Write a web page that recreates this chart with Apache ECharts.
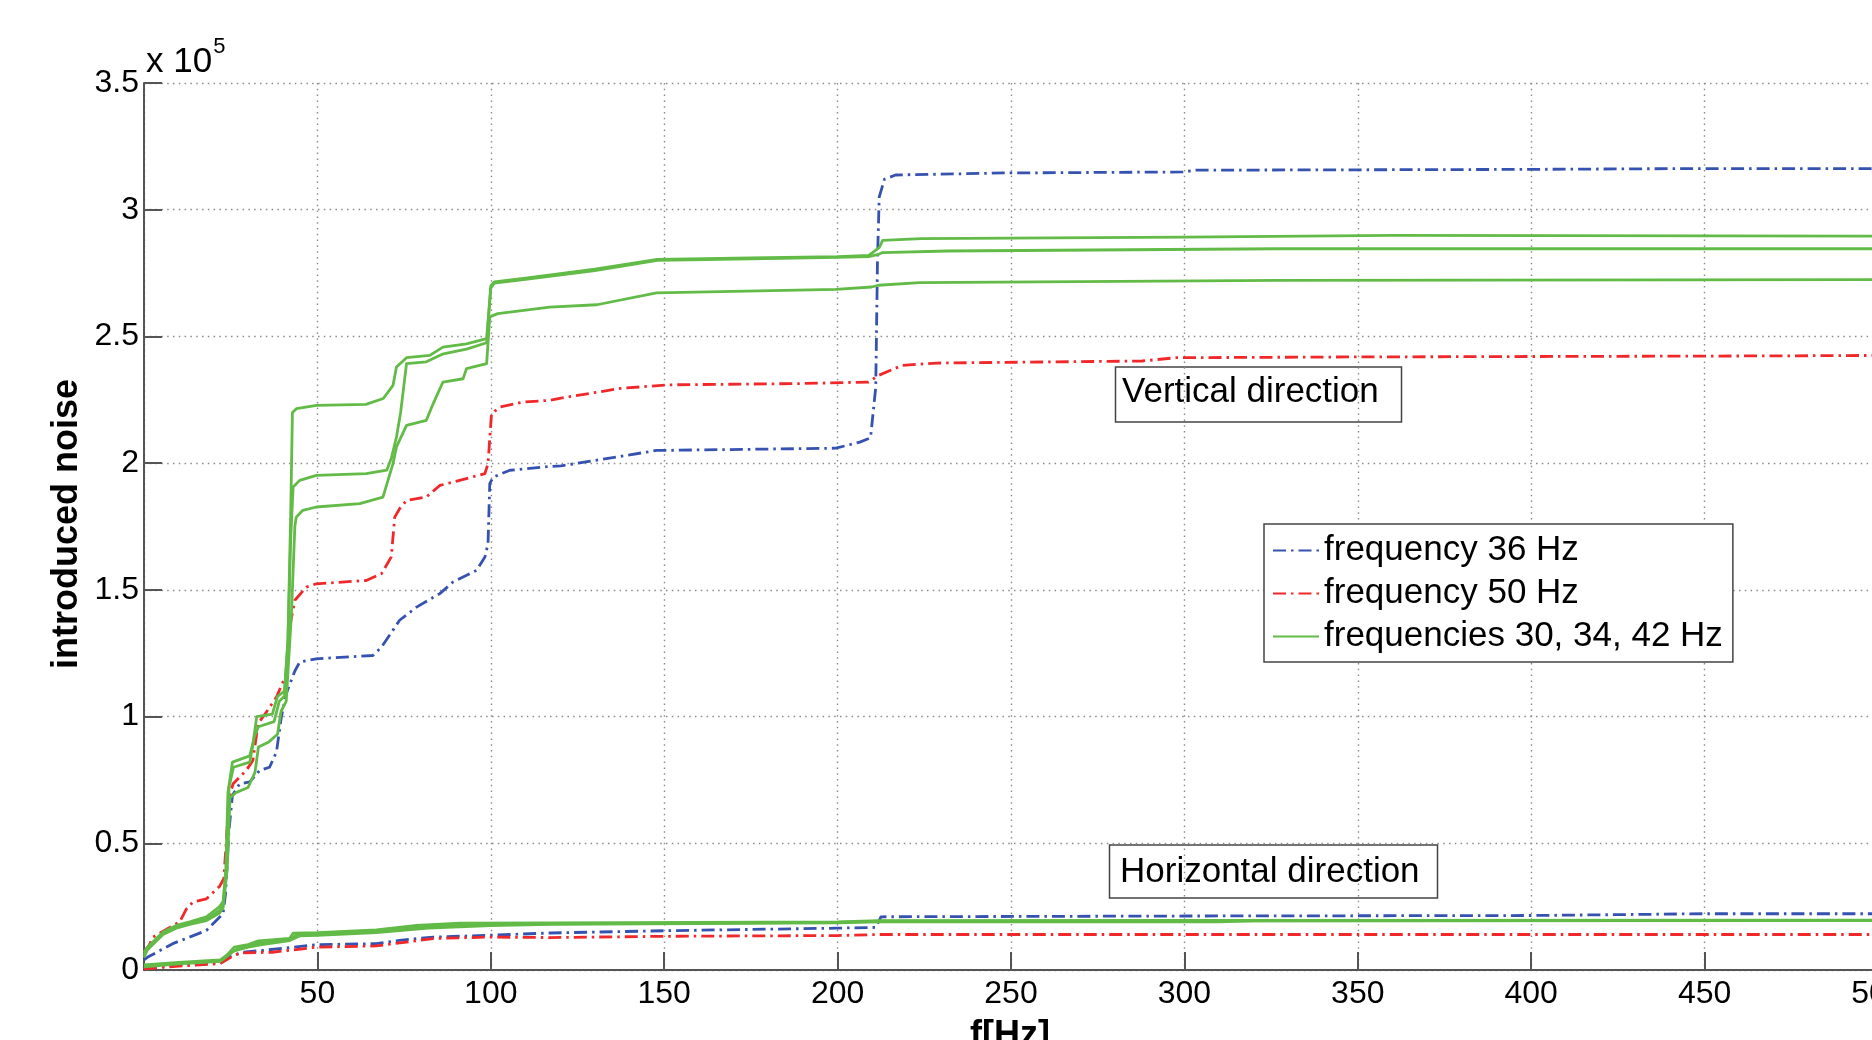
<!DOCTYPE html>
<html>
<head>
<meta charset="utf-8">
<title>introduced noise</title>
<script src="https://cdn.jsdelivr.net/npm/echarts@6.0.0/dist/echarts.min.js"></script>
<style>
  html, body { margin: 0; padding: 0; background: #fff; }
  #chart { width: 1872px; height: 1040px; }
</style>
</head>
<body>
<div id="chart"></div>
<script>
// values in units of 10^5, x in Hz
const xTicks = [0, 50, 100, 150, 200, 250, 300, 350, 400, 450, 500]
const yTicks = [0, 0.5, 1, 1.5, 2, 2.5, 3, 3.5]
const legendNames = ["frequency 36 Hz", "frequency 50 Hz", "frequencies 30, 34, 42 Hz"]

// vertical direction
const vert36 = [
  [0, 0.04], [1.1, 0.051], [8.3, 0.104], [18, 0.156], [22.8, 0.222], [23.5, 0.3], [24.5, 0.55], [25.5, 0.69],
  [27.6, 0.735], [30.5, 0.742], [33.4, 0.788], [36.2, 0.8], [38.2, 0.86], [39.6, 0.998], [41, 1.09], [43.5, 1.18],
  [44.9, 1.215], [49.7, 1.228], [66, 1.241], [68.5, 1.274], [73.7, 1.38], [78.6, 1.432], [85.3, 1.485], [89.1, 1.531],
  [95.9, 1.577], [98.3, 1.63], [99.2, 1.682], [99.7, 1.919], [100.7, 1.945], [105.5, 1.972], [117, 1.987], [120.2, 1.989],
  [137.5, 2.027], [147.8, 2.05], [199.5, 2.059], [206.4, 2.083], [209.5, 2.1], [211, 2.3], [211.5, 2.8], [212, 3.05],
  [213.5, 3.12], [216.7, 3.137], [248.3, 3.145], [299.6, 3.149], [303.4, 3.156], [396, 3.159], [440, 3.162], [500, 3.162]
]
const vert50 = [
  [0, 0.07], [1.6, 0.1], [2.6, 0.13], [10.3, 0.19], [12.2, 0.24], [14.1, 0.268], [18, 0.281], [21.8, 0.33], [23, 0.36],
  [23.7, 0.5], [24.5, 0.68], [25.7, 0.735], [29.5, 0.788], [31.4, 0.827], [32.9, 0.972], [35.3, 1.018], [38.2, 1.077],
  [41.1, 1.169], [42, 1.353], [43.5, 1.459], [46.8, 1.511], [49.7, 1.524], [64.1, 1.537], [68.5, 1.564], [71.3, 1.63],
  [72.3, 1.787], [73.7, 1.82], [75.7, 1.853], [81.4, 1.866], [85.3, 1.912], [91, 1.932], [98.3, 1.959], [99.2, 1.998],
  [100.2, 2.195], [102.6, 2.221], [109.3, 2.241], [117, 2.248], [120.2, 2.257], [137.5, 2.295], [151.2, 2.309], [189, 2.314],
  [208.9, 2.32], [211.8, 2.346], [218.7, 2.386], [228.6, 2.395], [287.8, 2.403], [297.6, 2.416], [346.9, 2.419], [465, 2.423],
  [500, 2.425]
]
const vertA = [
  [0, 0.07], [1, 0.09], [5.5, 0.15], [9.3, 0.176], [13.2, 0.19], [18, 0.21], [21.8, 0.25], [22.8, 0.27], [23.6, 0.4],
  [24.2, 0.7], [25.5, 0.82], [30.5, 0.845], [31.5, 0.9], [32.5, 1.0], [37, 1.01], [38.5, 1.08], [40.5, 1.1], [41.5, 1.3],
  [42.3, 1.8], [42.8, 2.2], [44, 2.215], [49.7, 2.228], [64, 2.232], [69, 2.255], [71.8, 2.307], [72.8, 2.379],
  [75.7, 2.416], [82.4, 2.425], [86.2, 2.458], [93, 2.471], [98.8, 2.491], [100, 2.7], [101, 2.715], [110, 2.73],
  [130, 2.766], [148, 2.804], [175, 2.81], [200, 2.815], [209, 2.82], [212, 2.85], [213, 2.879], [224, 2.886],
  [300, 2.892], [360, 2.899], [500, 2.896]
]
const vertB = [
  [0, 0.06], [1, 0.085], [5.5, 0.145], [9.3, 0.17], [13.2, 0.185], [18, 0.2], [21.8, 0.235], [22.8, 0.255], [23.8, 0.4],
  [24.5, 0.72], [25.8, 0.8], [30.5, 0.82], [31.8, 0.92], [33, 0.96], [37.5, 0.98], [39, 1.06], [40.5, 1.08], [41.5, 1.3],
  [42.3, 1.7], [43, 1.906], [44.9, 1.932], [49.7, 1.952], [64.1, 1.959], [70, 1.972], [71.3, 2.018], [72.8, 2.103],
  [74, 2.2], [75.7, 2.393], [81.4, 2.4], [86, 2.43], [93, 2.45], [98.8, 2.475], [100, 2.69], [101, 2.71], [110, 2.725],
  [130, 2.76], [148, 2.8], [175, 2.806], [200, 2.812], [209, 2.815], [212, 2.825], [213, 2.831], [231.6, 2.837],
  [327, 2.846], [500, 2.846]
]
const vertC = [
  [0, 0.05], [1, 0.08], [5.5, 0.14], [9.3, 0.165], [13.2, 0.18], [18, 0.195], [21.8, 0.225], [22.8, 0.245], [24, 0.4],
  [24.8, 0.68], [26.5, 0.7], [30, 0.72], [32, 0.78], [33, 0.88], [36, 0.9], [38.5, 0.93], [39.5, 1.02], [41, 1.06],
  [42.5, 1.4], [43.5, 1.75], [43.9, 1.787], [45.8, 1.814], [49.7, 1.827], [62.2, 1.84], [68.9, 1.866], [71.8, 1.998],
  [72.8, 2.064], [75.7, 2.149], [81.4, 2.169], [83.4, 2.235], [86.2, 2.32], [92, 2.333], [93, 2.373], [98.8, 2.393],
  [99.7, 2.577], [102, 2.59], [117, 2.616], [130.6, 2.625], [147.8, 2.672], [199.5, 2.686], [209.8, 2.695], [211.8, 2.702],
  [223.7, 2.712], [327, 2.721], [500, 2.724]
]

// horizontal direction
const horiz36 = [
  [0, 0.01], [10, 0.02], [22, 0.03], [25, 0.055], [28.5, 0.07], [34, 0.077], [49.7, 0.1], [67, 0.104], [73.7, 0.117],
  [83.4, 0.13], [99.7, 0.137], [117, 0.146], [150, 0.155], [199.5, 0.165], [211, 0.168], [212.5, 0.21], [300, 0.213],
  [400, 0.215], [450, 0.222], [500, 0.222]
]
const horiz50 = [
  [0, 0.005], [10, 0.015], [22, 0.025], [25, 0.05], [27.6, 0.067], [37, 0.07], [49.7, 0.09], [67, 0.095], [83.4, 0.124],
  [99.7, 0.13], [117, 0.128], [150, 0.133], [200, 0.136], [212, 0.14], [300, 0.14], [500, 0.14]
]
const horizA = [
  [0, 0.02], [10, 0.03], [22, 0.04], [24, 0.06], [26, 0.09], [30, 0.1], [33, 0.115], [42, 0.125], [43, 0.145], [50, 0.147],
  [67, 0.158], [78.6, 0.176], [91, 0.185], [117, 0.186], [200, 0.19], [212, 0.195], [300, 0.196], [500, 0.197]
]
const horizB = [
  [0, 0.015], [10, 0.027], [22, 0.036], [25, 0.07], [28, 0.09], [33, 0.105], [42, 0.12], [44, 0.138], [50, 0.14],
  [67, 0.152], [80, 0.17], [95, 0.18], [117, 0.182], [200, 0.188], [212, 0.193], [310, 0.194], [500, 0.196]
]
const horizC = [
  [0, 0.012], [10, 0.024], [22, 0.034], [26, 0.075], [30, 0.09], [34, 0.1], [42, 0.116], [45, 0.135], [50, 0.137],
  [67, 0.148], [82, 0.165], [100, 0.175], [117, 0.18], [200, 0.186], [212, 0.19], [310, 0.19], [320, 0.194], [500, 0.195]
]

const blue = "#3652b0"
const red = "#f0282a"
const green = "#62bb47"
const font = "'Liberation Sans', Arial, Helvetica, sans-serif"
const dashDot = [13, 5, 2.5, 5]

const makeLine = (name, data, color, dashed) => ({
  name: name,
  type: "line",
  data: data,
  showSymbol: false,
  symbol: "none",
  animation: false,
  lineStyle: {
    color: color,
    width: dashed ? 2.8 : 2.8,
    type: dashed ? dashDot : "solid",
    join: "round"
  },
  itemStyle: { color: color }
})

const chart = echarts.init(document.getElementById("chart"))

const option = {
  animation: false,
  backgroundColor: "#fff",
  textStyle: { fontFamily: font },
  grid: {
    left: 144,
    top: 83,
    right: -6,
    bottom: 70,
    containLabel: false,
    outerBoundsMode: "none"
  },
  legend: {
    data: legendNames,
    orient: "vertical",
    left: 1264,
    top: 524,
    padding: [5, 10, 4, 8],
    itemGap: 0,
    itemWidth: 46,
    itemHeight: 14,
    backgroundColor: "#fff",
    borderColor: "#444",
    borderWidth: 1.5,
    borderRadius: 0,
    selectedMode: false,
    // hide the symbol dot, keep only the line sample
    itemStyle: { opacity: 0, borderWidth: 0 },
    lineStyle: { width: 2 },
    textStyle: {
      fontFamily: font,
      fontSize: 35,
      lineHeight: 43,
      color: "#000"
    }
  },
  xAxis: {
    type: "value",
    min: xTicks[0],
    max: xTicks[xTicks.length - 1],
    interval: 50,
    axisLine: { lineStyle: { color: "#555", width: 2 } },
    axisTick: { inside: true, length: 18, lineStyle: { color: "#555", width: 2 } },
    axisLabel: {
      fontSize: 32,
      fontFamily: font,
      color: "#000",
      margin: 8,
      formatter: (v) => (v === 0 ? "" : String(v))
    },
    splitLine: { show: true, lineStyle: { color: "#8a8a8a", width: 1.4, type: [1.5, 4.3] } }
  },
  yAxis: {
    type: "value",
    min: yTicks[0],
    max: yTicks[yTicks.length - 1],
    interval: 0.5,
    axisLine: { show: true, lineStyle: { color: "#555", width: 2 } },
    axisTick: { show: true, inside: true, length: 18, lineStyle: { color: "#555", width: 2 } },
    axisLabel: {
      fontSize: 32,
      fontFamily: font,
      color: "#000",
      margin: 5,
      formatter: (v) => String(v)
    },
    splitLine: { show: true, lineStyle: { color: "#8a8a8a", width: 1.4, type: [1.5, 4.3] } }
  },
  graphic: [
    {
      type: "text",
      left: 146,
      top: 36,
      style: {
        text: "{a|x 10}{b|5}",
        rich: {
          a: { fontSize: 35, fontFamily: font, fill: "#000", verticalAlign: "bottom", lineHeight: 44 },
          b: { fontSize: 22, fontFamily: font, fill: "#000", verticalAlign: "top", lineHeight: 44, padding: [0, 0, 22, 1] }
        }
      }
    },
    {
      type: "text",
      x: 67,
      y: 524,
      rotation: Math.PI / 2,
      style: {
        text: "introduced noise",
        font: "bold 36px " + font,
        fill: "#000",
        align: "center",
        verticalAlign: "middle"
      }
    },
    {
      type: "text",
      x: 1010,
      y: 1036,
      style: {
        text: "f[Hz]",
        font: "bold 36px " + font,
        fill: "#000",
        align: "center",
        verticalAlign: "middle"
      }
    },
    {
      type: "group",
      children: [
        {
          type: "rect",
          shape: { x: 1115.5, y: 367, width: 286, height: 55 },
          style: { fill: "#fff", stroke: "#444", lineWidth: 1.5 }
        },
        {
          type: "text",
          x: 1122,
          y: 392,
          style: { text: "Vertical direction", font: "35px " + font, fill: "#000", verticalAlign: "middle" }
        },
        {
          type: "rect",
          shape: { x: 1109.5, y: 845, width: 328, height: 53 },
          style: { fill: "#fff", stroke: "#444", lineWidth: 1.5 }
        },
        {
          type: "text",
          x: 1120,
          y: 872,
          style: { text: "Horizontal direction", font: "35px " + font, fill: "#000", verticalAlign: "middle" }
        }
      ]
    }
  ],
  series: [
    makeLine(legendNames[0], vert36, blue, true),
    makeLine(legendNames[1], vert50, red, true),
    makeLine(legendNames[2], vertA, green, false),
    makeLine(legendNames[2], vertB, green, false),
    makeLine(legendNames[2], vertC, green, false),
    makeLine(legendNames[0], horiz36, blue, true),
    makeLine(legendNames[1], horiz50, red, true),
    makeLine(legendNames[2], horizA, green, false),
    makeLine(legendNames[2], horizB, green, false),
    makeLine(legendNames[2], horizC, green, false)
  ]
}

chart.setOption(option)
</script>
</body>
</html>
